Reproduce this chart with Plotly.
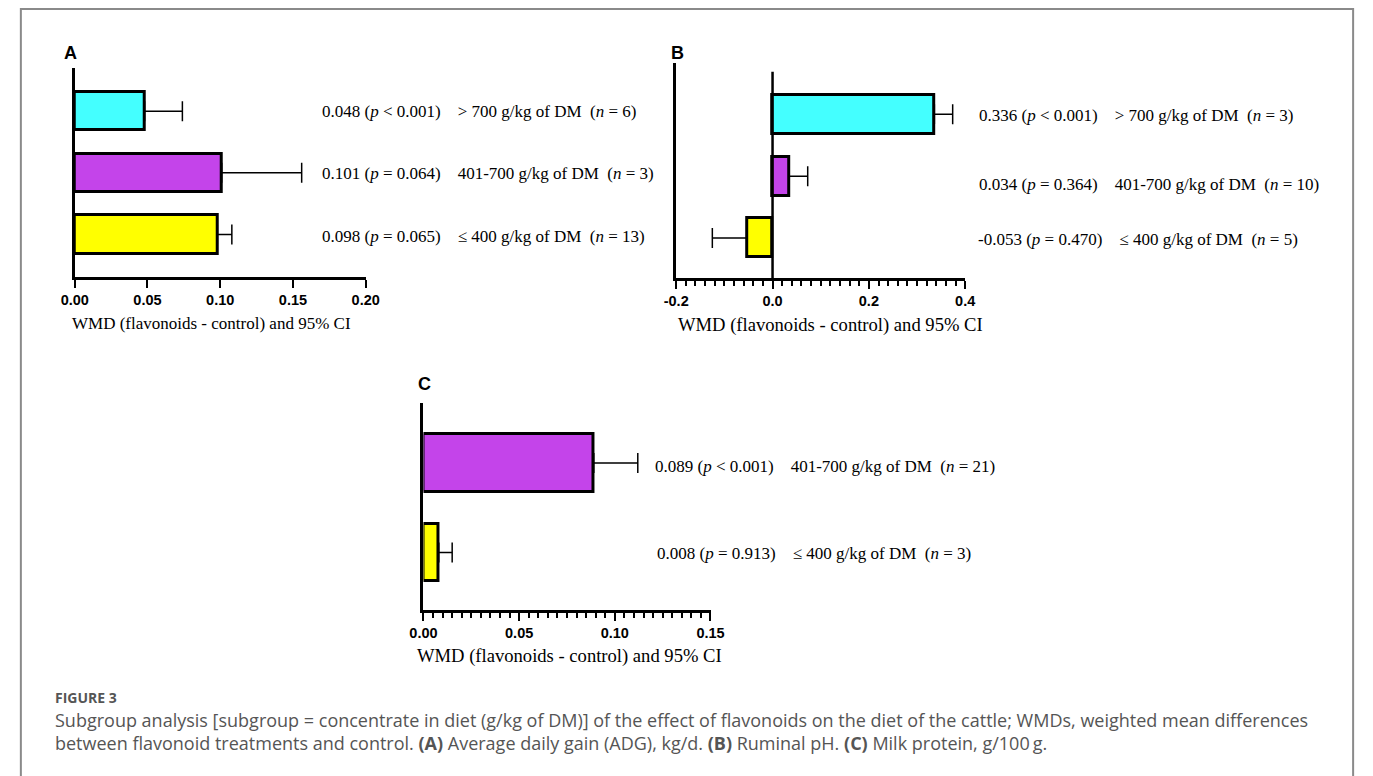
import plotly.graph_objects as go

W, H = 1373, 776

# ---------------- data ----------------
colors_3 = ["#FFFF00", "#C444EA", "#44FFFF"]  # <=400, 401-700, >700

# Panel A: Average daily gain
A_wmd = [0.098, 0.101, 0.048]
A_upper = [0.108, 0.156, 0.074]
A_labels = [
    "0.098 (<i>p</i> = 0.065)    ≤ 400 g/kg of DM  (<i>n</i> = 13)",
    "0.101 (<i>p</i> = 0.064)    401-700 g/kg of DM  (<i>n</i> = 3)",
    "0.048 (<i>p</i> < 0.001)    > 700 g/kg of DM  (<i>n</i> = 6)",
]
A_ticks = [0.00, 0.05, 0.10, 0.15, 0.20]
A_ticktext = ["0.00", "0.05", "0.10", "0.15", "0.20"]

# Panel B: Ruminal pH
B_wmd = [-0.053, 0.034, 0.336]
B_lower = [-0.125, 0.034, 0.336]
B_upper = [-0.053, 0.073, 0.374]
B_labels = [
    "-0.053 (<i>p</i> = 0.470)    ≤ 400 g/kg of DM  (<i>n</i> = 5)",
    "0.034 (<i>p</i> = 0.364)    401-700 g/kg of DM  (<i>n</i> = 10)",
    "0.336 (<i>p</i> < 0.001)    > 700 g/kg of DM  (<i>n</i> = 3)",
]
B_ticks = [-0.2, 0.0, 0.2, 0.4]
B_ticktext = ["-0.2", "0.0", "0.2", "0.4"]

# Panel C: Milk protein
C_wmd = [0.008, 0.089]
C_upper = [0.015, 0.112]
C_colors = ["#FFFF00", "#C444EA"]
C_labels = [
    "0.008 (<i>p</i> = 0.913)    ≤ 400 g/kg of DM  (<i>n</i> = 3)",
    "0.089 (<i>p</i> < 0.001)    401-700 g/kg of DM  (<i>n</i> = 21)",
]
C_ticks = [0.00, 0.05, 0.10, 0.15]
C_ticktext = ["0.00", "0.05", "0.10", "0.15"]

axis_title = "WMD (flavonoids - control) and 95% CI"
caption_head = "FIGURE 3"
caption_1 = ("Subgroup analysis [subgroup = concentrate in diet (g/kg of DM)] of the effect of flavonoids "
             "on the diet of the cattle; WMDs, weighted mean differences")
caption_2 = ("between flavonoid treatments and control. <b>(A)</b> Average daily gain (ADG), kg/d. "
             "<b>(B)</b> Ruminal pH. <b>(C)</b> Milk protein, g/100\u2009g.")


def px(x):
    return x / W


def py(y):
    return 1 - y / H


def nb(s):
    return s.replace("  ", "\u00a0\u00a0")


fig = go.Figure()

ypos3 = list(range(3))
ypos2 = list(range(2))
bar_line = dict(color="black", width=3)
err_style = dict(color="black", thickness=1.5, width=10)

# A
fig.add_trace(go.Bar(
    x=A_wmd, y=ypos3, orientation="h", width=0.62,
    marker=dict(color=colors_3, line=bar_line),
    error_x=dict(type="data", symmetric=False,
                 array=[u - v for u, v in zip(A_upper, A_wmd)],
                 arrayminus=[0, 0, 0], **err_style),
    xaxis="x", yaxis="y", showlegend=False, hoverinfo="skip"))

# B
fig.add_trace(go.Bar(
    x=B_wmd, y=ypos3, orientation="h", width=0.63,
    marker=dict(color=colors_3, line=bar_line),
    error_x=dict(type="data", symmetric=False,
                 array=[u - v for u, v in zip(B_upper, B_wmd)],
                 arrayminus=[v - l for v, l in zip(B_wmd, B_lower)], **err_style),
    xaxis="x2", yaxis="y2", showlegend=False, hoverinfo="skip"))

# C
fig.add_trace(go.Bar(
    x=C_wmd, y=ypos2, orientation="h", width=0.64,
    marker=dict(color=C_colors, line=bar_line),
    error_x=dict(type="data", symmetric=False,
                 array=[u - v for u, v in zip(C_upper, C_wmd)],
                 arrayminus=[0, 0], **err_style),
    xaxis="x3", yaxis="y3", showlegend=False, hoverinfo="skip"))

tickfont = dict(family="Liberation Sans", size=14.5, color="black", weight="bold")
common_x = dict(showline=True, linecolor="black", linewidth=2.5, ticks="outside",
                ticklen=8, tickwidth=2, tickcolor="black", showgrid=False,
                zeroline=False, tickfont=tickfont, fixedrange=True)
common_y = dict(showline=True, linecolor="black", linewidth=2.5, ticks="",
                showticklabels=False, showgrid=False, zeroline=False, fixedrange=True)

fig.update_layout(
    width=W, height=H, margin=dict(l=0, r=0, t=0, b=0),
    paper_bgcolor="white", plot_bgcolor="rgba(0,0,0,0)", bargap=0,
    xaxis=dict(domain=[px(62), px(359)], range=[0, 0.2], anchor="y",
               tickvals=A_ticks, ticktext=A_ticktext, **common_x),
    yaxis=dict(domain=[py(277), py(68)], range=[-0.69, 2.70], anchor="x", **common_y),
    xaxis2=dict(domain=[px(676), px(971)], range=[-0.2, 0.4], anchor="y2",
                tickvals=B_ticks, ticktext=B_ticktext,
                minor=dict(dtick=0.02, ticks="outside", ticklen=5, tickwidth=1.5,
                           tickcolor="black"), **common_x),
    yaxis2=dict(domain=[py(278), py(63)], range=[-0.648, 2.83], anchor="x2", **common_y),
    xaxis3=dict(domain=[px(418), px(711)], range=[0, 0.15], anchor="y3",
                tickvals=C_ticks, ticktext=C_ticktext,
                minor=dict(dtick=0.005, ticks="outside", ticklen=5, tickwidth=1.5,
                           tickcolor="black"), **common_x),
    yaxis3=dict(domain=[py(610), py(403)], range=[-0.642, 1.67], anchor="x3", **common_y),
)

# zero reference line in panel B
fig.add_shape(type="line", xref="x2", yref="y2", x0=0, x1=0, y0=-0.648, y1=2.69,
              line=dict(color="black", width=2.5), layer="above")

# figure frame
fig.add_shape(type="rect", xref="paper", yref="paper",
              x0=px(7), x1=px(1367), y0=-0.05, y1=py(9),
              line=dict(color="#8a8a8a", width=2), layer="below")

serif = dict(family="Liberation Serif", size=17, color="black")
ann = []
# bar labels
for t, yy in zip(A_labels, [236, 174, 112]):
    ann.append(dict(x=px(312), y=py(yy), xref="paper", yref="paper", text=nb(t),
                    showarrow=False, xanchor="left", yanchor="middle", font=serif))
for t, xx, yy in zip(B_labels, [982, 983, 983], [239, 184, 115]):
    ann.append(dict(x=px(xx), y=py(yy), xref="paper", yref="paper", text=nb(t),
                    showarrow=False, xanchor="left", yanchor="middle", font=serif))
for t, xx, yy in zip(C_labels, [654, 652], [553, 466]):
    ann.append(dict(x=px(xx), y=py(yy), xref="paper", yref="paper", text=nb(t),
                    showarrow=False, xanchor="left", yanchor="middle", font=serif))

# axis titles
for cx, cy, sz in [(202, 323, 17), (834, 325, 18.6), (567, 656, 18.6)]:
    ann.append(dict(x=px(cx), y=py(cy), xref="paper", yref="paper", text=axis_title,
                    showarrow=False, xanchor="center", yanchor="middle",
                    font=dict(family="Liberation Serif", size=sz, color="black")))

# panel letters
for letter, cx, cy in [("A", 58, 53), ("B", 677, 53), ("C", 419, 384)]:
    ann.append(dict(x=px(cx), y=py(cy), xref="paper", yref="paper", text=f"<b>{letter}</b>",
                    showarrow=False, xanchor="center", yanchor="middle",
                    font=dict(family="Liberation Sans", size=18, color="black")))

# caption
ann.append(dict(x=px(40), y=py(697), xref="paper", yref="paper", text=caption_head,
                showarrow=False, xanchor="left", yanchor="middle",
                font=dict(family="Open Sans", size=14, color="#555555", weight="bold")))
ann.append(dict(x=px(40), y=py(731), xref="paper", yref="paper",
                text=caption_1 + "<br>" + caption_2, align="left",
                showarrow=False, xanchor="left", yanchor="middle",
                font=dict(family="Open Sans", size=18, color="#555555")))

fig.update_layout(annotations=ann)
fig.write_html("out.html",
               config={"displayModeBar": False},
               post_script="document.body.style.margin='0';document.body.style.overflow='hidden';")
